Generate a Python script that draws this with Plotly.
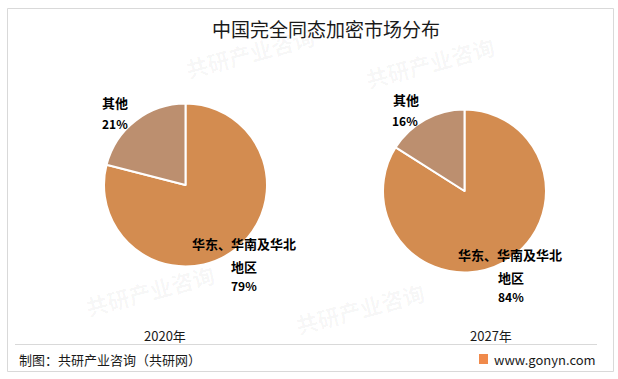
import plotly.graph_objects as go

W, H = 618, 379
title = "中国完全同态加密市场分布"
years = ["2020年", "2027年"]
categories = ["华东、华南及华北地区", "其他"]
values_2020 = [79, 21]
values_2027 = [84, 16]
colors = ["#D38C50", "#BC8F6F"]
source = "制图：共研产业咨询（共研网）"
site = "www.gonyn.com"
watermark = "共研产业咨询"

FONT = "Noto Sans CJK SC"

def px(x):
    return x / W

def py(y):
    return 1 - y / H

fig = go.Figure()

pies = [
    (values_2020, (104, 267), (103, 267)),
    (values_2027, (383, 546), (109, 273)),
]
for vals, (x0, x1), (y0, y1) in pies:
    fig.add_trace(go.Pie(
        labels=categories, values=vals, sort=False, direction="clockwise",
        rotation=0, textinfo="none", hoverinfo="label+percent",
        marker=dict(colors=colors, line=dict(color="white", width=2)),
        domain=dict(x=[px(x0), px(x1)], y=[py(y1), py(y0)]),
        showlegend=False,
    ))

ann = []
def text(x, y, s, size=13, bold=False, color="#000000", xanchor="center", angle=0):
    ann.append(dict(x=px(x), y=py(y), xref="paper", yref="paper", text=("<b>%s</b>" % s) if bold else s,
                    showarrow=False, xanchor=xanchor, yanchor="middle", textangle=angle,
                    font=dict(family=FONT, size=size, color=color)))

# faint watermarks (kept inside the frame, away from the pies)
for (wx, wy) in [(250, 52), (430, 62), (360, 308), (150, 290)]:
    text(wx, wy, "<b>%s</b>" % watermark, 22, color="rgba(0,0,0,0.04)", angle=-15)

text(326, 29, title, size=19, color="#1a1a1a")

# labels for 2020
text(115, 103, categories[1], 13, True)
text(115, 123, "%d%%" % values_2020[1], 12, True)
text(244, 243, categories[0][:8], 13, True)
text(244, 266, categories[0][8:], 13, True)
text(244, 285, "%d%%" % values_2020[0], 12, True)

# labels for 2027
text(406, 100, categories[1], 13, True)
text(405, 120, "%d%%" % values_2027[1], 12, True)
text(510, 254, categories[0][:8], 13, True)
text(511, 277, categories[0][8:], 13, True)
text(511, 296, "%d%%" % values_2027[0], 12, True)

text(165, 335, years[0], 13, color="#1a1a1a")
text(491, 335, years[1], 13, color="#1a1a1a")

text(17, 359, source, 13, color="#1a1a1a", xanchor="left")
text(492, 359, site, 13, color="#1a1a1a", xanchor="left")

shapes = [
    dict(type="rect", xref="paper", yref="paper", x0=px(7.5), x1=px(613.5), y0=py(371.5), y1=py(8.5),
         line=dict(color="#D9D9D9", width=1), fillcolor="rgba(0,0,0,0)", layer="below"),
    dict(type="line", xref="paper", yref="paper", x0=px(15), x1=px(597), y0=py(344.5), y1=py(344.5),
         line=dict(color="#D9D9D9", width=1)),
    dict(type="rect", xref="paper", yref="paper", x0=px(479), x1=px(488), y0=py(364), y1=py(354),
         line=dict(width=0), fillcolor="#F08A4B"),
]

fig.update_layout(
    width=W, height=H, margin=dict(l=0, r=0, t=0, b=0),
    paper_bgcolor="white", plot_bgcolor="white",
    annotations=ann, shapes=shapes,
)

fig.write_html("out.html", config={"displayModeBar": False},
               post_script="document.body.style.margin='0';document.body.style.overflow='hidden';")
